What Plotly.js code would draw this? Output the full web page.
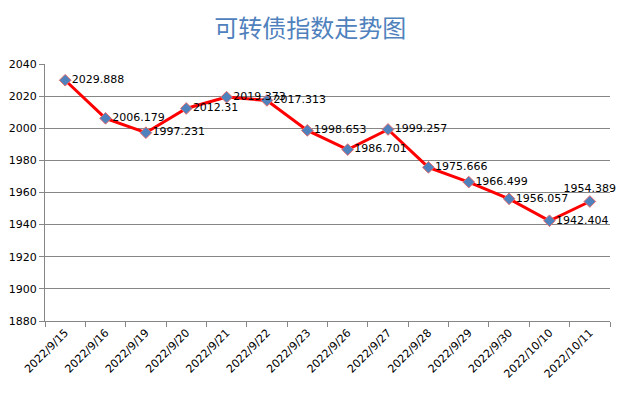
<!DOCTYPE html>
<html>
<head>
<meta charset="utf-8">
<script src="https://cdn.plot.ly/plotly-3.0.1.min.js"></script>
<style>html,body{margin:0;padding:0;background:#fff;}#chart{width:636px;height:393px;}</style>
</head>
<body>
<div id="chart"></div>
<script>
const dates = ["2022/9/15","2022/9/16","2022/9/19","2022/9/20","2022/9/21","2022/9/22","2022/9/23","2022/9/26","2022/9/27","2022/9/28","2022/9/29","2022/9/30","2022/10/10","2022/10/11"];
const values = [2029.888, 2006.179, 1997.231, 2012.31, 2019.373, 2017.313, 1998.653, 1986.701, 1999.257, 1975.666, 1966.499, 1956.057, 1942.404, 1954.389];
const labelPos = values.map((v, i) => i === values.length - 1 ? "top center" : "middle right");

const trace = {
  x: dates,
  y: values,
  type: "scatter",
  mode: "lines+markers+text",
  text: values.map(v => String(v)),
  textposition: labelPos,
  textfont: {family: "DejaVu Sans, Verdana, sans-serif", size: 11, color: "#000"},
  line: {color: "#FF0000", width: 3},
  marker: {symbol: "diamond", size: 9, color: "#4F81BD", line: {color: "#E46C6C", width: 1}},
  cliponaxis: false,
  hoverinfo: "x+y"
};

const layout = {
  width: 636, height: 393,
  margin: {l: 45, r: 26, t: 64, b: 72},
  paper_bgcolor: "#fff", plot_bgcolor: "#fff",
  showlegend: false,
  title: {
    text: "可转债指数走势图",
    font: {family: "Noto Sans CJK SC, sans-serif", size: 24, color: "#4F81BD"},
    x: 0.488, xref: "container", xanchor: "center",
    y: 1 - 29/393, yref: "container", yanchor: "middle"
  },
  xaxis: {
    type: "category",
    showgrid: false,
    showline: true, linecolor: "#868686", linewidth: 1,
    ticks: "outside", tickson: "boundaries", ticklen: 5, tickcolor: "#868686",
    tickangle: -45,
    tickfont: {family: "DejaVu Sans, Verdana, sans-serif", size: 11, color: "#000"},
    range: [-0.5, 13.5],
    zeroline: false
  },
  yaxis: {
    range: [1880, 2040], dtick: 20, tick0: 1880,
    showgrid: true, gridcolor: "#868686", gridwidth: 1,
    showline: true, linecolor: "#868686", linewidth: 1,
    ticks: "outside", ticklen: 5, tickcolor: "#868686",
    tickfont: {family: "DejaVu Sans, Verdana, sans-serif", size: 11, color: "#000"},
    zeroline: false
  }
};

Plotly.newPlot("chart", [trace], layout, {displayModeBar: false, staticPlot: true});
</script>
</body>
</html>
